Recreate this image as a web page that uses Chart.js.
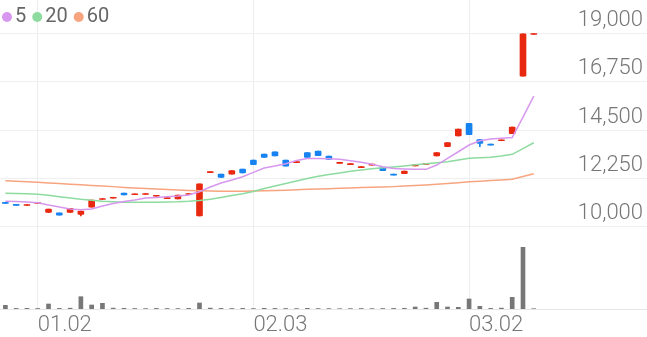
<!DOCTYPE html>
<html lang="ko">
<head>
  <meta charset="UTF-8">
  <title>Price chart</title>
  <script src="https://cdn.jsdelivr.net/npm/chart.js"></script>
  <style>
    html, body { margin: 0; padding: 0; background: #fff; }
    #wrap { width: 647px; height: 337px; }
  </style>
</head>
<body>
  <div id="wrap"><canvas id="priceChart" width="647" height="337"></canvas></div>

  <script>
    // 60 slots on the x axis, the last ones are left empty
    var slotCount = 60;
    var tickDays = [3, 23, 43];
    var tickLabels = ['01.02', '02.03', '03.02'];
    var priceTicks = [10000, 12250, 14500, 16750, 19000];

    var opens  = [11130, 11040, 10990, 11080, 10660, 10640, 10660, 10570, 10910, 11270,
                  11330, 11560, 11490, 11500, 11420, 11310, 11290, 11500, 10500, 12520,
                  12450, 12450, 12680, 13100, 13380, 13480, 13100, 12980, 13450, 13520,
                  13290, 12950, 12890, 12750, 12860, 12750, 12450, 12470, 12830, 12900,
                  13290, 13720, 14220, 14810, 14050, 13850, 14000, 14330, 17010, 18950];
    var closes = [11080, 10990, 11030, 11120, 10820, 10540, 10850, 10730, 11240, 11310,
                  11370, 11480, 11530, 11540, 11460, 11350, 11470, 11540, 11990, 12560,
                  12290, 12610, 12500, 12890, 13220, 13290, 12820, 13030, 13220, 13310,
                  13130, 13000, 12940, 12800, 12910, 12610, 12400, 12590, 12880, 12950,
                  13450, 13910, 14545, 14280, 13880, 13800, 14040, 14640, 18970, 18990];
    var highs  = [11130, 11040, 11030, 11120, 10820, 10640, 10850, 10730, 11240, 11310,
                  11370, 11560, 11530, 11540, 11460, 11350, 11470, 11540, 11990, 12560,
                  12450, 12610, 12680, 13100, 13380, 13480, 13100, 13030, 13450, 13520,
                  13290, 13000, 12940, 12800, 12910, 12750, 12450, 12590, 12880, 12950,
                  13450, 13910, 14545, 14810, 14070, 13850, 14040, 14640, 18970, 18990];
    var lows   = [11080, 10990, 10990, 11080, 10660, 10540, 10660, 10500, 10910, 11270,
                  11330, 11480, 11490, 11500, 11420, 11310, 11290, 11500, 10500, 12520,
                  12290, 12450, 12500, 12890, 13220, 13290, 12820, 12980, 13220, 13310,
                  13130, 12950, 12890, 12750, 12860, 12610, 12400, 12470, 12830, 12900,
                  13290, 13720, 14220, 14280, 13720, 13800, 14000, 14330, 17010, 18950];

    var ma5  = [11190, 11170, 11150, 11115, 11007, 10914, 10821, 10789, 10821, 10960,
                11077, 11170, 11240, 11333, 11356, 11394, 11426, 11473, 11627, 11845,
                12031, 12171, 12325, 12530, 12730, 12823, 12930, 13079, 13172, 13172,
                13163, 13135, 13070, 12995, 12902, 12790, 12706, 12683, 12669, 12669,
                12869, 13181, 13488, 13800, 14000, 14080, 14112, 14150, 15100, 16080];
    var ma20 = [11552, 11543, 11529, 11505, 11459, 11394, 11333, 11273, 11226, 11184,
                11156, 11138, 11133, 11133, 11138, 11147, 11156, 11180, 11217, 11273,
                11356, 11450, 11529, 11636, 11776, 11892, 12008, 12125, 12241, 12343,
                12427, 12497, 12576, 12637, 12692, 12739, 12776, 12823, 12879, 12925,
                12972, 13023, 13102, 13181, 13204, 13228, 13288, 13367, 13637, 13907];
    var ma60 = [12140, 12115, 12090, 12065, 12035, 12010, 11975, 11950, 11920, 11890,
                11865, 11830, 11805, 11775, 11750, 11730, 11705, 11690, 11670, 11660,
                11650, 11650, 11655, 11660, 11670, 11685, 11700, 11720, 11740, 11755,
                11770, 11790, 11805, 11820, 11835, 11850, 11865, 11890, 11920, 11945,
                11975, 12010, 12050, 12090, 12115, 12145, 12170, 12205, 12335, 12465];

    var volumes = [370000, 60000, 70000, 50000, 500000, 60000, 80000, 1230000, 400000, 570000,
                   90000, 70000, 50000, 40000, 60000, 50000, 40000, 60000, 600000, 90000,
                   60000, 50000, 60000, 40000, 70000, 60000, 50000, 40000, 70000, 40000,
                   40000, 30000, 40000, 50000, 40000, 50000, 60000, 70000, 200000, 80000,
                   670000, 200000, 170000, 1000000, 270000, 60000, 90000, 1170000, 6170000, 30000];

    var upColor = '#e8290f';
    var downColor = '#1683f0';
    var maColors = ['#d797ef', '#8ddb9f', '#f7a47f'];
    var maNames = ['5', '20', '60'];

    var labels = [];
    for (var i = 0; i < slotCount; i++) {
      var k = tickDays.indexOf(i);
      labels.push(k >= 0 ? tickLabels[k] : '');
    }

    var bodies = opens.map(function(o, i) { return [o, closes[i]]; });
    var wicks = lows.map(function(l, i) { return [l, highs[i]]; });
    var candleColors = opens.map(function(o, i) { return closes[i] >= o ? upColor : downColor; });

    // small legend drawn in the top left corner
    var maLegend = {
      id: 'maLegend',
      afterDraw: function(chart) {
        var c = chart.ctx;
        c.save();
        c.font = '20px Roboto';
        c.textBaseline = 'middle';
        var x = 7;
        var y = 17;
        maNames.forEach(function(name, i) {
          c.fillStyle = maColors[i];
          c.beginPath();
          c.arc(x, y, 5, 0, Math.PI * 2);
          c.fill();
          c.fillStyle = '#666';
          c.fillText(name, x + 8, y);
          x += 8 + c.measureText(name).width + 11;
        });
        c.restore();
      }
    };

    // no extra room around the axes
    function noPad(axis) {
      axis.paddingTop = 0;
      axis.paddingBottom = 0;
      axis.paddingLeft = 0;
      axis.paddingRight = 0;
    }

    var ctx = document.getElementById('priceChart').getContext('2d');
    var chart = new Chart(ctx, {
      data: {
        labels: labels,
        datasets: [
          { type: 'line', data: ma5, borderColor: maColors[0], borderWidth: 1.5, pointRadius: 0, yAxisID: 'y', order: 0 },
          { type: 'line', data: ma20, borderColor: maColors[1], borderWidth: 1.5, pointRadius: 0, yAxisID: 'y', order: 0 },
          { type: 'line', data: ma60, borderColor: maColors[2], borderWidth: 1.5, pointRadius: 0, yAxisID: 'y', order: 0 },
          { type: 'bar', data: wicks, backgroundColor: candleColors, barThickness: 1, grouped: false, yAxisID: 'y', order: 2 },
          { type: 'bar', data: bodies, backgroundColor: candleColors, barThickness: 6, borderRadius: 1, borderSkipped: false, grouped: false, yAxisID: 'y', order: 1 },
          { type: 'bar', data: volumes, backgroundColor: '#777', barThickness: 4, grouped: false, yAxisID: 'vol', order: 3 }
        ]
      },
      options: {
        responsive: false,
        animation: false,
        layout: { padding: 0 },
        plugins: { legend: { display: false }, tooltip: { enabled: false } },
        scales: {
          x: {
            offset: true,
            afterFit: function(axis) { axis.height = 28; noPad(axis); },
            grid: {
              offset: false,
              drawTicks: false,
              color: function(c) { return tickDays.indexOf(c.index) >= 0 ? '#ececec' : 'rgba(0,0,0,0)'; }
            },
            border: { display: true, color: '#e6e6e6' },
            ticks: {
              autoSkip: false,
              maxRotation: 0,
              align: 'start',
              padding: 3,
              color: '#777',
              font: { family: 'Roboto', size: 22, weight: '300' }
            }
          },
          y: {
            position: 'right',
            min: 6170,
            max: 20550,
            afterFit: function(axis) { axis.width = 0; noPad(axis); },
            afterBuildTicks: function(axis) {
              axis.ticks = priceTicks.map(function(v) { return { value: v }; });
            },
            grid: { drawTicks: false, color: '#efefef' },
            border: { display: false },
            ticks: {
              mirror: true,
              padding: -4,
              labelOffset: -13,
              color: '#777',
              font: { family: 'Roboto', size: 22, weight: '300' },
              callback: function(v) { return v.toLocaleString('en-US'); }
            }
          },
          vol: {
            display: false,
            min: 0,
            max: 30900000
          }
        }
      },
      plugins: [maLegend]
    });
  </script>
</body>
</html>
